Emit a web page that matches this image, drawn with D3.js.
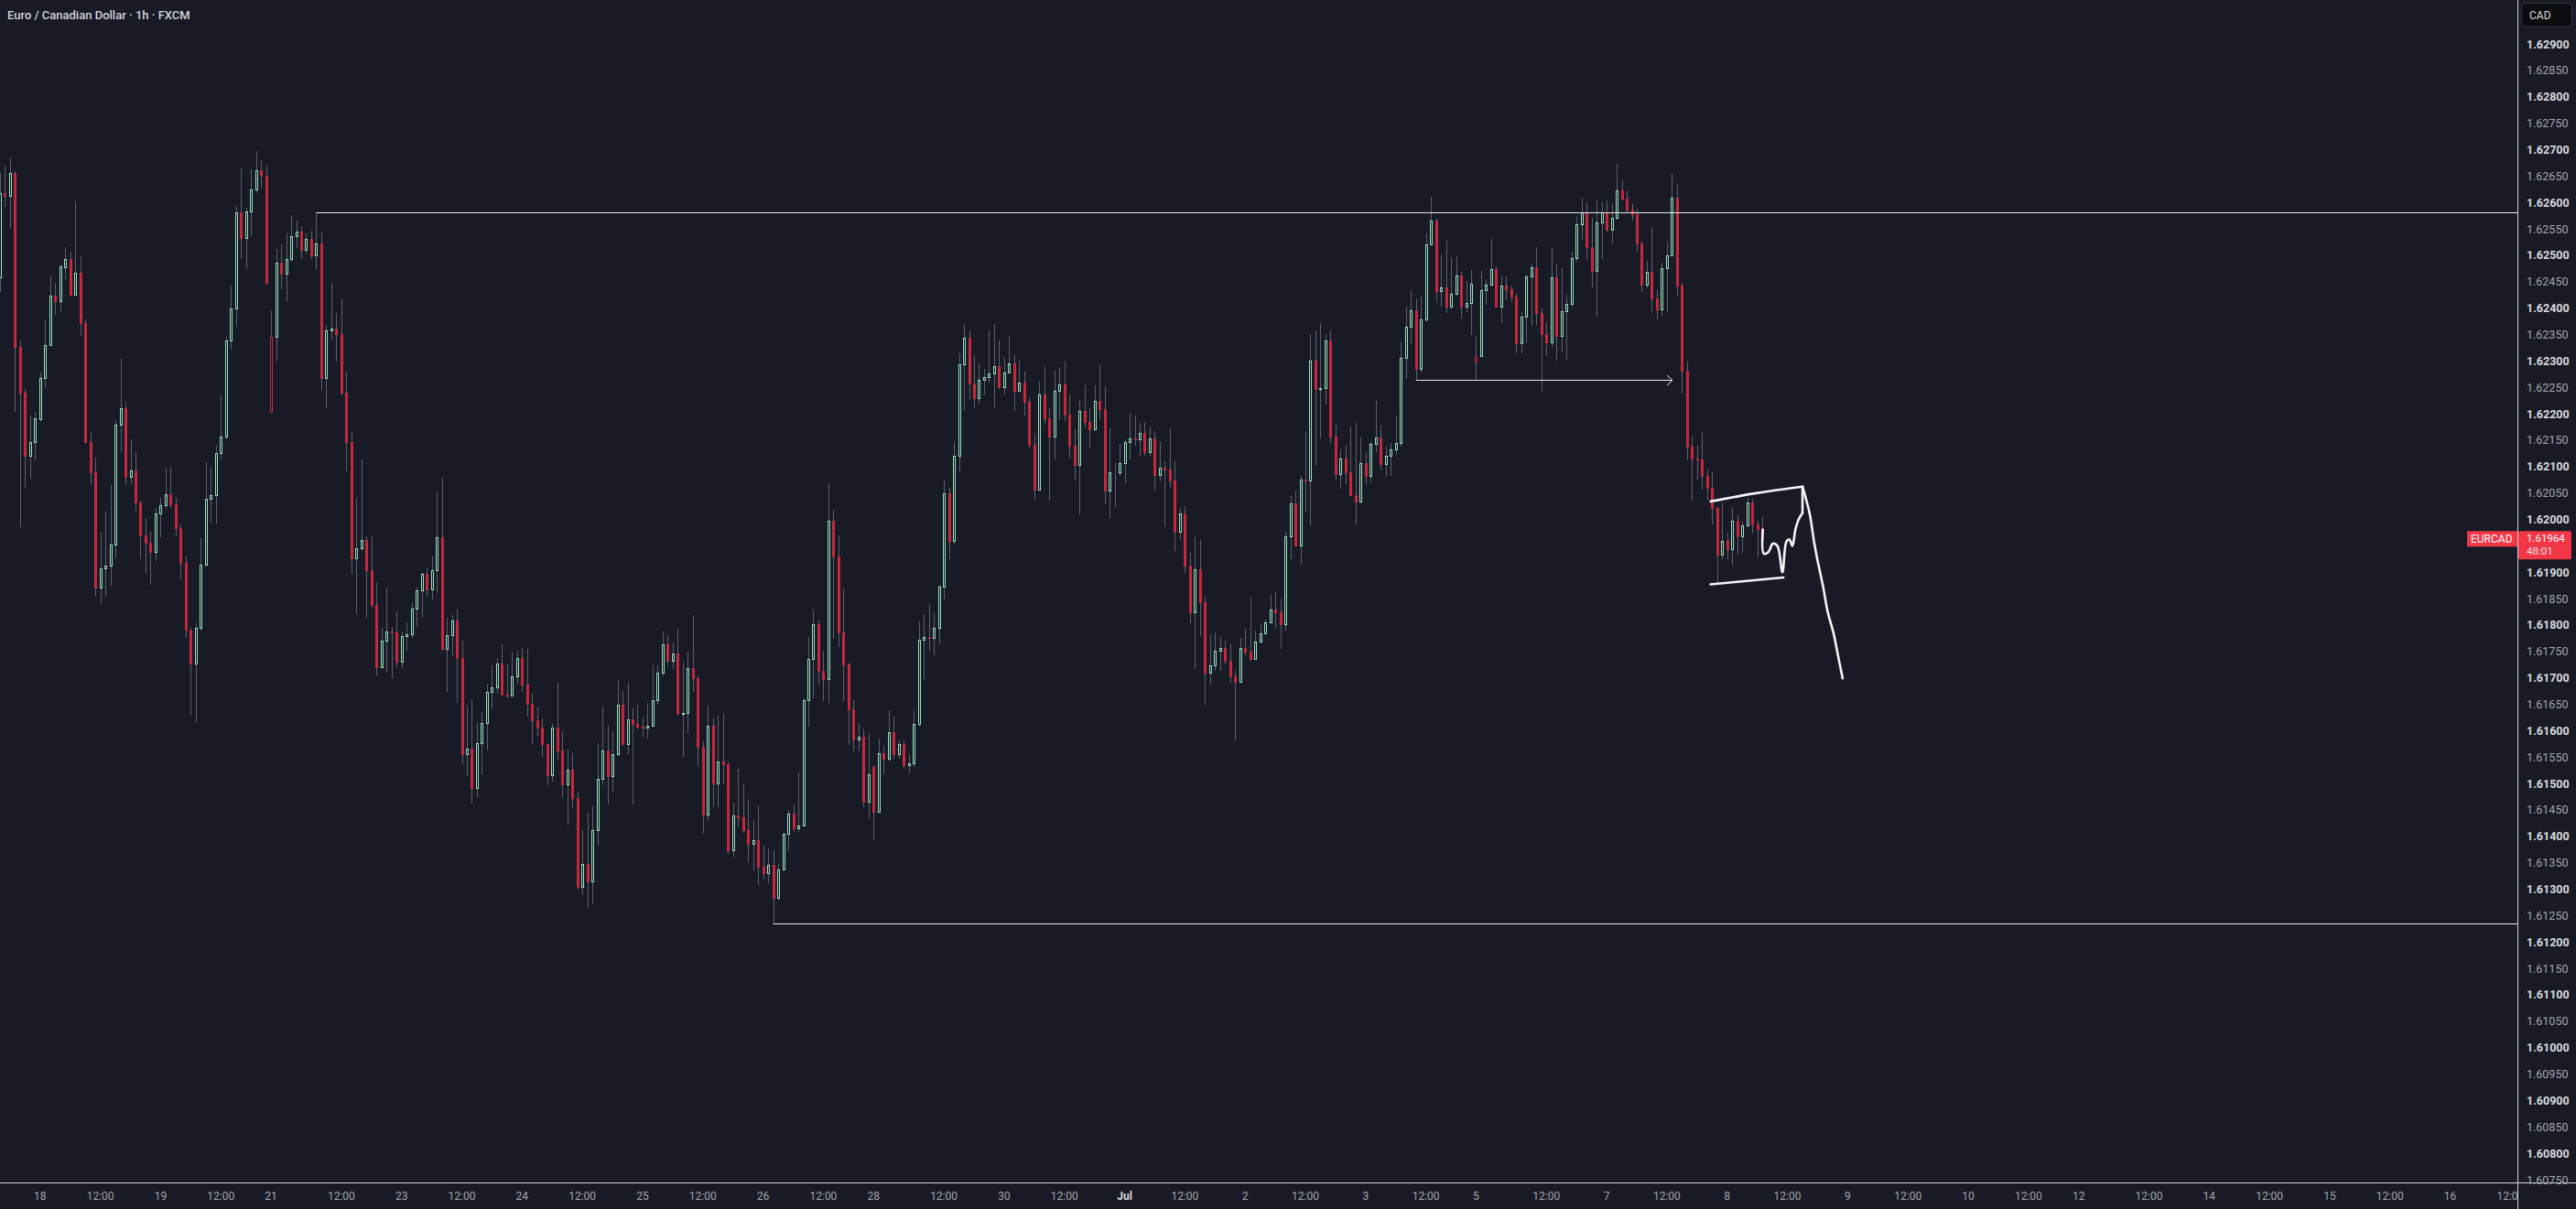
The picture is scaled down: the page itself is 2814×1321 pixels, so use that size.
<!DOCTYPE html>
<html>
<head>
<meta charset="utf-8">
<script src="https://cdn.jsdelivr.net/npm/d3@7/dist/d3.min.js"></script>
<style>
  html, body { margin: 0; padding: 0; background: #181a25; }
  svg { display: block; font-family: Roboto, "Noto Sans", sans-serif; }
</style>
</head>
<body>
<svg id="chart" width="2814" height="1321"></svg>
<script>
// EURCAD 1h, FXCM. First candle on screen is 17 Jun 16:00 (chart time)
const firstBar = "2026-06-17T16:00:00Z";

const open = [
1.62459,1.62617,1.62612,1.62655,1.62326,1.62240,1.62120,1.62146,
1.62190,1.62267,1.62330,1.62424,1.62414,1.62478,1.62493,1.62426,1.62467,1.62371,
1.62146,1.62090,1.61871,1.61907,1.61913,1.61953,1.62180,1.62210,1.62080,1.62093,
1.62032,1.61969,1.61955,1.61938,1.62011,1.62027,1.62047,1.62028,1.61983,1.61917,
1.61791,1.61727,1.61795,1.61915,1.62039,1.62046,1.62126,1.62157,1.62338,1.62400,
1.62581,1.62532,1.62583,1.62624,1.62661,1.62651,1.62204,1.62345,1.62486,1.62466,
1.62493,1.62537,1.62544,1.62510,1.62531,1.62500,1.62523,1.62268,1.62358,1.62362,
1.62350,1.62240,1.62146,1.61926,1.61945,1.61961,1.61904,1.61838,1.61720,1.61770,
1.61787,1.61786,1.61731,1.61779,1.61783,1.61831,1.61865,1.61897,1.61868,1.61904,
1.61966,1.61754,1.61781,1.61808,1.61737,1.61555,1.61566,1.61491,1.61576,1.61614,
1.61673,1.61682,1.61727,1.61669,1.61666,1.61702,1.61738,1.61687,1.61651,1.61619,
1.61605,1.61574,1.61515,1.61606,1.61562,1.61498,1.61526,1.61472,1.61304,1.61347,
1.61314,1.61412,1.61509,1.61562,1.61514,1.61555,1.61650,1.61575,1.61622,1.61613,
1.61607,1.61606,1.61610,1.61657,1.61709,1.61763,1.61733,1.61747,1.61632,1.61633,
1.61718,1.61700,1.61569,1.61441,1.61610,1.61500,1.61541,1.61536,1.61374,1.61439,
1.61436,1.61412,1.61385,1.61393,1.61343,1.61331,1.61346,1.61283,1.61338,1.61405,
1.61443,1.61416,1.61420,1.61657,1.61735,1.61802,1.61714,1.61698,1.61998,1.61929,
1.61786,1.61725,1.61640,1.61583,1.61588,1.61465,1.61532,1.61446,1.61557,1.61547,
1.61598,1.61555,1.61575,1.61534,1.61538,1.61613,1.61773,1.61777,1.61776,1.61794,
1.61873,1.62049,1.61960,1.62120,1.62294,1.62344,1.62258,1.62229,1.62264,1.62270,
1.62277,1.62291,1.62250,1.62278,1.62296,1.62243,1.62259,1.62222,1.62142,1.62057,
1.62236,1.62191,1.62156,1.62243,1.62256,1.62198,1.62139,1.62103,1.62206,1.62185,
1.62170,1.62224,1.62208,1.62055,1.62090,1.62089,1.62106,1.62146,1.62153,1.62152,
1.62163,1.62127,1.62154,1.62084,1.62097,1.62094,1.62074,1.61977,1.62012,1.61912,
1.61824,1.61905,1.61844,1.61710,1.61724,1.61752,1.61756,1.61732,1.61702,1.61693,
1.61756,1.61749,1.61735,1.61769,1.61784,1.61805,1.61829,1.61824,1.61801,1.61968,
1.62030,1.61951,1.62075,1.62074,1.62300,1.62246,1.62248,1.62338,1.62156,1.62086,
1.62115,1.62090,1.62046,1.62033,1.62107,1.62082,1.62143,1.62155,1.62105,1.62120,
1.62132,1.62144,1.62305,1.62364,1.62396,1.62285,1.62378,1.62520,1.62565,1.62433,
1.62439,1.62402,1.62427,1.62462,1.62402,1.62409,1.62298,1.62310,1.62434,1.62445,
1.62473,1.62403,1.62443,1.62435,1.62422,1.62334,1.62383,1.62460,1.62478,1.62391,
1.62351,1.62336,1.62458,1.62348,1.62394,1.62408,1.62494,1.62558,1.62582,1.62516,
1.62471,1.62562,1.62581,1.62548,1.62570,1.62622,1.62608,1.62586,1.62577,1.62523,
1.62444,1.62468,1.62418,1.62397,1.62475,1.62500,1.62609,1.62442,1.62282,1.62138,
1.62116,1.62114,1.62083,1.62060,1.62022,1.61934,1.61959,1.61944,1.61998,1.61968,
1.61988,1.62032,1.61990,1.61981
];

const high = [
1.62655,1.62669,1.62686,1.62660,1.62337,1.62247,1.62197,1.62202,
1.62278,1.62377,1.62462,1.62447,1.62483,1.62516,1.62506,1.62602,1.62498,1.62378,
1.62165,1.62117,1.61975,1.62014,1.62065,1.62186,1.62304,1.62223,1.62151,1.62128,
1.62035,1.62003,1.61976,1.62021,1.62041,1.62098,1.62100,1.62041,1.61991,1.61929,
1.61797,1.61803,1.61965,1.62108,1.62100,1.62140,1.62235,1.62345,1.62442,1.62594,
1.62664,1.62590,1.62663,1.62698,1.62680,1.62669,1.62396,1.62512,1.62521,1.62542,
1.62576,1.62565,1.62555,1.62542,1.62546,1.62582,1.62544,1.62367,1.62447,1.62391,
1.62416,1.62279,1.62165,1.62041,1.62113,1.61968,1.61968,1.61881,1.61795,1.61871,
1.61797,1.61826,1.61787,1.61805,1.61844,1.61871,1.61899,1.61908,1.61930,1.62051,
1.62079,1.61814,1.61821,1.61829,1.61770,1.61647,1.61659,1.61615,1.61635,1.61688,
1.61724,1.61737,1.61763,1.61725,1.61749,1.61752,1.61757,1.61755,1.61670,1.61644,
1.61624,1.61576,1.61613,1.61690,1.61599,1.61564,1.61557,1.61484,1.61412,1.61444,
1.61457,1.61576,1.61646,1.61610,1.61599,1.61696,1.61675,1.61690,1.61644,1.61650,
1.61625,1.61653,1.61723,1.61723,1.61787,1.61781,1.61767,1.61793,1.61729,1.61749,
1.61819,1.61704,1.61580,1.61648,1.61624,1.61628,1.61632,1.61542,1.61463,1.61528,
1.61499,1.61471,1.61431,1.61459,1.61383,1.61378,1.61374,1.61347,1.61406,1.61450,
1.61459,1.61521,1.61662,1.61778,1.61830,1.61809,1.61751,1.62069,1.62019,1.61969,
1.61867,1.61729,1.61658,1.61615,1.61603,1.61594,1.61535,1.61585,1.61571,1.61639,
1.61627,1.61582,1.61582,1.61555,1.61639,1.61806,1.61820,1.61840,1.61822,1.61876,
1.62074,1.62059,1.62147,1.62315,1.62370,1.62358,1.62311,1.62296,1.62285,1.62357,
1.62369,1.62339,1.62305,1.62348,1.62311,1.62301,1.62280,1.62229,1.62162,1.62261,
1.62291,1.62211,1.62282,1.62289,1.62298,1.62236,1.62171,1.62225,1.62254,1.62210,
1.62254,1.62292,1.62252,1.62172,1.62106,1.62143,1.62151,1.62202,1.62197,1.62183,
1.62185,1.62176,1.62168,1.62147,1.62110,1.62172,1.62110,1.62021,1.62025,1.61936,
1.61967,1.61961,1.61853,1.61782,1.61786,1.61778,1.61770,1.61766,1.61714,1.61776,
1.61793,1.61851,1.61789,1.61803,1.61810,1.61857,1.61864,1.61850,1.61977,1.62045,
1.62054,1.62083,1.62168,1.62351,1.62358,1.62372,1.62351,1.62358,1.62179,1.62133,
1.62140,1.62176,1.62183,1.62155,1.62126,1.62146,1.62225,1.62178,1.62137,1.62144,
1.62197,1.62336,1.62403,1.62434,1.62418,1.62424,1.62541,1.62611,1.62569,1.62502,
1.62529,1.62496,1.62498,1.62469,1.62451,1.62472,1.62345,1.62470,1.62455,1.62531,
1.62479,1.62460,1.62460,1.62443,1.62427,1.62392,1.62464,1.62484,1.62515,1.62400,
1.62373,1.62514,1.62483,1.62475,1.62425,1.62507,1.62572,1.62609,1.62600,1.62571,
1.62605,1.62601,1.62604,1.62597,1.62673,1.62642,1.62623,1.62599,1.62588,1.62526,
1.62489,1.62553,1.62434,1.62486,1.62526,1.62656,1.62634,1.62448,1.62299,1.62155,
1.62139,1.62166,1.62095,1.62090,1.62023,1.62032,1.61974,1.62023,1.62008,1.61996,
1.62041,1.62039,1.61998,1.62004
];

const low = [
1.62431,1.62592,1.62551,1.62204,1.61985,1.62059,1.62077,1.62111,
1.62185,1.62251,1.62328,1.62387,1.62391,1.62455,1.62424,1.62424,1.62348,1.62144,
1.62065,1.61856,1.61842,1.61854,1.61874,1.61927,1.62127,1.62065,1.62066,1.62017,
1.61926,1.61897,1.61876,1.61922,1.61967,1.62020,1.62022,1.61969,1.61886,1.61775,
1.61630,1.61617,1.61790,1.61910,1.61994,1.61993,1.62114,1.62151,1.62322,1.62364,
1.62493,1.62473,1.62536,1.62617,1.62628,1.62445,1.62202,1.62299,1.62436,1.62413,
1.62487,1.62513,1.62493,1.62504,1.62493,1.62472,1.62244,1.62210,1.62341,1.62298,
1.62235,1.62091,1.61897,1.61820,1.61940,1.61813,1.61833,1.61705,1.61718,1.61709,
1.61699,1.61721,1.61718,1.61752,1.61776,1.61796,1.61814,1.61853,1.61846,1.61860,
1.61752,1.61673,1.61741,1.61652,1.61537,1.61514,1.61462,1.61474,1.61518,1.61562,
1.61640,1.61670,1.61666,1.61662,1.61664,1.61688,1.61674,1.61626,1.61574,1.61591,
1.61550,1.61496,1.61504,1.61543,1.61473,1.61420,1.61453,1.61300,1.61291,1.61264,
1.61271,1.61382,1.61496,1.61461,1.61485,1.61553,1.61573,1.61555,1.61461,1.61602,
1.61588,1.61585,1.61608,1.61649,1.61702,1.61723,1.61716,1.61630,1.61550,1.61595,
1.61673,1.61533,1.61405,1.61429,1.61455,1.61455,1.61499,1.61366,1.61360,1.61417,
1.61407,1.61352,1.61336,1.61308,1.61319,1.61311,1.61235,1.61279,1.61336,1.61374,
1.61409,1.61408,1.61418,1.61607,1.61661,1.61688,1.61656,1.61652,1.61774,1.61758,
1.61656,1.61573,1.61561,1.61563,1.61455,1.61435,1.61393,1.61444,1.61517,1.61541,
1.61546,1.61547,1.61530,1.61519,1.61532,1.61608,1.61698,1.61751,1.61743,1.61764,
1.61849,1.61925,1.61953,1.62091,1.62207,1.62226,1.62211,1.62220,1.62236,1.62259,
1.62212,1.62247,1.62237,1.62277,1.62205,1.62242,1.62197,1.62135,1.62037,1.62055,
1.62179,1.62035,1.62114,1.62189,1.62185,1.62116,1.62074,1.62009,1.62174,1.62135,
1.62169,1.62189,1.62028,1.62002,1.62023,1.62083,1.62069,1.62114,1.62139,1.62121,
1.62120,1.62118,1.62054,1.62072,1.61987,1.62059,1.61940,1.61961,1.61897,1.61804,
1.61717,1.61779,1.61648,1.61687,1.61714,1.61714,1.61725,1.61691,1.61581,1.61690,
1.61742,1.61733,1.61735,1.61766,1.61782,1.61804,1.61795,1.61754,1.61790,1.61925,
1.61949,1.61915,1.62014,1.61989,1.62102,1.62153,1.62218,1.62145,1.62073,1.62058,
1.62067,1.62045,1.61990,1.62030,1.62065,1.62071,1.62128,1.62092,1.62081,1.62083,
1.62122,1.62137,1.62266,1.62334,1.62264,1.62278,1.62375,1.62518,1.62412,1.62402,
1.62390,1.62398,1.62424,1.62381,1.62393,1.62349,1.62263,1.62308,1.62407,1.62442,
1.62402,1.62372,1.62415,1.62411,1.62315,1.62315,1.62333,1.62366,1.62366,1.62241,
1.62310,1.62326,1.62300,1.62317,1.62300,1.62403,1.62488,1.62529,1.62493,1.62439,
1.62384,1.62493,1.62545,1.62523,1.62568,1.62603,1.62581,1.62565,1.62506,1.62431,
1.62438,1.62391,1.62378,1.62383,1.62393,1.62499,1.62421,1.62238,1.62111,1.62036,
1.62076,1.62056,1.62036,1.61991,1.61878,1.61924,1.61924,1.61913,1.61934,1.61936,
1.61985,1.61973,1.61928,1.61964
];

const close = [
1.62617,1.62612,1.62655,1.62326,1.62240,1.62120,1.62146,1.62191,
1.62268,1.62330,1.62424,1.62414,1.62479,1.62493,1.62426,1.62467,1.62371,1.62146,
1.62090,1.61871,1.61907,1.61913,1.61953,1.62180,1.62210,1.62080,1.62093,1.62032,
1.61969,1.61955,1.61938,1.62011,1.62027,1.62047,1.62028,1.61983,1.61917,1.61791,
1.61727,1.61795,1.61915,1.62039,1.62046,1.62126,1.62157,1.62338,1.62400,1.62581,
1.62532,1.62583,1.62624,1.62661,1.62651,1.62447,1.62345,1.62486,1.62466,1.62493,
1.62537,1.62544,1.62510,1.62531,1.62500,1.62523,1.62268,1.62358,1.62362,1.62350,
1.62240,1.62146,1.61926,1.61945,1.61961,1.61904,1.61838,1.61720,1.61770,1.61787,
1.61786,1.61731,1.61779,1.61783,1.61831,1.61865,1.61897,1.61868,1.61904,1.61966,
1.61754,1.61781,1.61808,1.61737,1.61555,1.61566,1.61491,1.61576,1.61614,1.61673,
1.61682,1.61727,1.61669,1.61666,1.61702,1.61738,1.61687,1.61651,1.61619,1.61605,
1.61574,1.61515,1.61606,1.61562,1.61498,1.61526,1.61472,1.61304,1.61347,1.61314,
1.61412,1.61509,1.61562,1.61514,1.61555,1.61650,1.61575,1.61622,1.61613,1.61607,
1.61606,1.61610,1.61657,1.61709,1.61763,1.61733,1.61747,1.61632,1.61633,1.61718,
1.61700,1.61569,1.61441,1.61610,1.61500,1.61541,1.61536,1.61374,1.61439,1.61436,
1.61412,1.61385,1.61393,1.61343,1.61331,1.61346,1.61283,1.61338,1.61405,1.61443,
1.61416,1.61420,1.61657,1.61735,1.61802,1.61714,1.61698,1.61998,1.61929,1.61786,
1.61725,1.61640,1.61583,1.61588,1.61465,1.61517,1.61446,1.61557,1.61547,1.61598,
1.61555,1.61575,1.61534,1.61538,1.61613,1.61773,1.61777,1.61776,1.61794,1.61873,
1.62049,1.61960,1.62120,1.62294,1.62344,1.62258,1.62229,1.62264,1.62270,1.62277,
1.62291,1.62250,1.62278,1.62296,1.62243,1.62259,1.62222,1.62142,1.62057,1.62236,
1.62191,1.62156,1.62243,1.62256,1.62198,1.62139,1.62103,1.62206,1.62185,1.62170,
1.62224,1.62208,1.62055,1.62090,1.62089,1.62106,1.62146,1.62153,1.62152,1.62163,
1.62127,1.62154,1.62084,1.62097,1.62094,1.62074,1.61977,1.62012,1.61912,1.61824,
1.61905,1.61844,1.61710,1.61724,1.61752,1.61756,1.61732,1.61702,1.61693,1.61756,
1.61749,1.61735,1.61769,1.61784,1.61805,1.61829,1.61824,1.61801,1.61968,1.62030,
1.61951,1.62075,1.62074,1.62300,1.62246,1.62248,1.62338,1.62156,1.62086,1.62115,
1.62090,1.62046,1.62033,1.62107,1.62082,1.62143,1.62155,1.62105,1.62120,1.62132,
1.62144,1.62305,1.62364,1.62396,1.62285,1.62378,1.62520,1.62565,1.62433,1.62439,
1.62402,1.62427,1.62462,1.62402,1.62409,1.62446,1.62310,1.62434,1.62445,1.62473,
1.62403,1.62443,1.62435,1.62422,1.62334,1.62383,1.62460,1.62478,1.62391,1.62351,
1.62336,1.62458,1.62348,1.62394,1.62408,1.62494,1.62558,1.62582,1.62516,1.62471,
1.62562,1.62581,1.62548,1.62570,1.62622,1.62608,1.62586,1.62577,1.62523,1.62444,
1.62468,1.62418,1.62397,1.62475,1.62500,1.62609,1.62442,1.62282,1.62138,1.62116,
1.62114,1.62083,1.62060,1.62022,1.61934,1.61959,1.61944,1.61998,1.61968,1.61988,
1.62032,1.61990,1.61981,1.61964
];

const priceTicks = [
"1.62900","1.62850","1.62800","1.62750","1.62700","1.62650","1.62600","1.62550",
"1.62500","1.62450","1.62400","1.62350","1.62300","1.62250","1.62200","1.62150",
"1.62100","1.62050","1.62000","1.61950","1.61900","1.61850","1.61800","1.61750",
"1.61700","1.61650","1.61600","1.61550","1.61500","1.61450","1.61400","1.61350",
"1.61300","1.61250","1.61200","1.61150","1.61100","1.61050","1.61000","1.60950",
"1.60900","1.60850","1.60800","1.60750"
];

const timeTickTimes = [
"2026-06-18T00","2026-06-18T12","2026-06-19T00","2026-06-19T12","2026-06-21T22","2026-06-22T12",
"2026-06-23T00","2026-06-23T12","2026-06-24T00","2026-06-24T12","2026-06-25T00","2026-06-25T12",
"2026-06-26T00","2026-06-26T12","2026-06-28T22","2026-06-29T12","2026-06-30T00","2026-06-30T12",
"2026-07-01T00","2026-07-01T12","2026-07-02T00","2026-07-02T12","2026-07-03T00","2026-07-03T12",
"2026-07-05T22","2026-07-06T12","2026-07-07T00","2026-07-07T12","2026-07-08T00","2026-07-08T12",
"2026-07-09T00","2026-07-09T12","2026-07-10T00","2026-07-10T12","2026-07-12T22","2026-07-13T12",
"2026-07-14T00","2026-07-14T12","2026-07-15T00","2026-07-15T12","2026-07-16T00","2026-07-16T12"
];
const timeTickLabels = [
"18","12:00","19","12:00","21","12:00","23","12:00","24","12:00","25","12:00",
"26","12:00","28","12:00","30","12:00","Jul","12:00","2","12:00","3","12:00",
"5","12:00","7","12:00","8","12:00","9","12:00","10","12:00","12","12:00",
"14","12:00","15","12:00","16","12:00"
];

// user drawings, as [bar index, price]
const resistance = { from: 63, price: 1.62581 };
const support = { from: 154, price: 1.61235 };
const arrowLine = { from: 282, to: 333.1, price: 1.62264 };
const boxTop = [[340.7, 1.62034], [350.0, 1.62050], [359.0, 1.62062]];
const boxBottom = [[340.7, 1.61877], [355.2, 1.61890]];
const boxSide = [[359.0, 1.62062], [359.0, 1.62012]];
const squiggle = [[351.1, 1.61981], [351.3, 1.61935], [352.2, 1.61938], [353.1, 1.61954], [354.0, 1.61950],
  [355.0, 1.61900], [355.8, 1.61958], [356.4, 1.61962], [357.0, 1.61950], [357.6, 1.61981],
  [358.2, 1.61999], [359.0, 1.62012]];
const dropPath = [[359.0, 1.62062], [360.4, 1.62012], [361.3, 1.61958], [361.9, 1.61927], [363.1, 1.61873],
  [364.0, 1.61826], [365.2, 1.61784], [366.1, 1.61741], [367.0, 1.61699]];

const lastPrice = "1.61964", countdown = "48:01", symbol = "EURCAD";

const bg = "#181a25", upColor = "#98e0bf", downColor = "#c4283d", wickColor = "#5c5f6b";
const plotRight = 2750, plotBottom = 1292;

const svg = d3.select("#chart");
svg.append("rect").attr("width", 2814).attr("height", 1321).attr("fill", bg);

const x = d3.scaleLinear().domain([0, 500]).range([-0.1, -0.1 + 5.485 * 500]);
const y = d3.scaleLinear().domain([1.6075, 1.629]).range([1289, 48]);

// trading hours only: no bars from Fri 22:00 until Sun 22:00
const bars = d3.utcHour.range(new Date(firstBar), new Date("2026-07-17T00:00:00Z")).filter(d => {
  let wd = d.getUTCDay(), h = d.getUTCHours();
  return !(wd === 6 || (wd === 5 && h >= 22) || (wd === 0 && h < 22));
});
function barOf(t){
  let ms = +new Date(t + ":00:00Z");
  return bars.findIndex(d => +d === ms);
}

svg.append("clipPath").attr("id", "plotClip")
  .append("rect").attr("width", plotRight).attr("height", plotBottom);

const plot = svg.append("g").attr("clip-path", "url(#plotClip)");

const candles = open.map((o, k) => ({
  k: k, o: o, h: high[k], l: low[k], c: close[k],
  prev: k > 0 ? close[k - 1] : o
}));

const cg = plot.append("g").attr("class", "candles");
candles.forEach(d => {
  let px = Math.round(x(d.k)),
    color = d.c >= d.prev ? upColor : downColor,
    hollow = d.c >= d.o,
    yTop = Math.round(y(Math.max(d.o, d.c))),
    yBot = Math.round(y(Math.min(d.o, d.c)));
  cg.append("line")
    .attr("x1", px + 0.5).attr("x2", px + 0.5)
    .attr("y1", Math.round(y(d.h))).attr("y2", Math.round(y(d.l)))
    .attr("stroke", wickColor).attr("stroke-width", 1);
  cg.append("rect")
    .attr("x", px - 0.5).attr("width", 2)
    .attr("y", yTop + 0.5).attr("height", Math.max(yBot - yTop, 0))
    .attr("fill", hollow ? bg : color)
    .attr("stroke", color).attr("stroke-width", 1);
});

// horizontal levels
const dg = plot.append("g").attr("class", "drawings");
[resistance, support].forEach(l => {
  dg.append("line")
    .attr("x1", x(l.from)).attr("x2", plotRight)
    .attr("y1", Math.round(y(l.price)) + 0.5).attr("y2", Math.round(y(l.price)) + 0.5)
    .attr("stroke", "#e8e8ea").attr("stroke-width", 1);
});

let ay = Math.round(y(arrowLine.price)) + 0.5, ax2 = x(arrowLine.to);
dg.append("line").attr("x1", x(arrowLine.from)).attr("x2", ax2).attr("y1", ay).attr("y2", ay)
  .attr("stroke", "#e8e8ea").attr("stroke-width", 1);
dg.append("path").attr("d", `M${ax2 - 6},${ay - 5.5}L${ax2},${ay}L${ax2 - 6},${ay + 5.5}`)
  .attr("fill", "none").attr("stroke", "#e8e8ea").attr("stroke-width", 1);

const brush = d3.line().x(p => x(p[0])).y(p => y(p[1])).curve(d3.curveCatmullRom.alpha(0.5));
[boxTop, boxBottom, boxSide, squiggle, dropPath].forEach(p => {
  dg.append("path").attr("d", brush(p))
    .attr("fill", "none").attr("stroke", "#f4f4f6").attr("stroke-width", 2.6)
    .attr("stroke-linecap", "round").attr("stroke-linejoin", "round");
});

// axes frame
svg.append("line").attr("x1", plotRight + 0.5).attr("x2", plotRight + 0.5).attr("y1", 0).attr("y2", 1321)
  .attr("stroke", "#d4d5da").attr("stroke-width", 1);
svg.append("line").attr("x1", 0).attr("x2", 2814).attr("y1", plotBottom + 0.5).attr("y2", plotBottom + 0.5)
  .attr("stroke", "#d4d5da").attr("stroke-width", 1);

// price scale; labels under the last price marker are hidden, as on the chart
let ly = y(+lastPrice);
const pa = svg.append("g").attr("class", "price-axis");
priceTicks.forEach(t => {
  let major = t.endsWith("00"), ty = y(+t);
  if (ty > ly - 16 && ty < ly + 30) return;
  pa.append("text").attr("x", 2760).attr("y", ty)
    .attr("dominant-baseline", "central")
    .attr("font-size", 12.5)
    .attr("font-weight", major ? 700 : 400)
    .attr("fill", major ? "#d9dade" : "#a4a6ae")
    .text(t);
});

// time scale
const ta = svg.append("g").attr("class", "time-axis").attr("clip-path", "url(#timeClip)");
svg.append("clipPath").attr("id", "timeClip").append("rect").attr("width", plotRight).attr("height", 1321);
timeTickTimes.forEach((t, i) => {
  let lab = timeTickLabels[i];
  ta.append("text").attr("x", x(barOf(t))).attr("y", 1307)
    .attr("text-anchor", "middle").attr("dominant-baseline", "central")
    .attr("font-size", 12)
    .attr("font-weight", lab === "Jul" ? 700 : 400)
    .attr("fill", lab === "Jul" ? "#d9dade" : "#a4a6ae")
    .text(lab);
});

// currency button
svg.append("rect").attr("x", 2754.5).attr("y", 3.5).attr("width", 55).attr("height", 26).attr("rx", 4)
  .attr("fill", "#0d0d10").attr("stroke", "#34363e");
svg.append("text").attr("x", 2763).attr("y", 17).attr("dominant-baseline", "central")
  .attr("font-size", 12).attr("fill", "#d9dade").text("CAD");

// last price marker
svg.append("rect").attr("x", 2751).attr("y", ly - 8).attr("width", 58).attr("height", 31).attr("rx", 2)
  .attr("fill", "#f23645");
svg.append("text").attr("x", 2760).attr("y", ly - 0.5).attr("dominant-baseline", "central")
  .attr("font-size", 11.5).attr("fill", "#ffffff").text(lastPrice);
svg.append("text").attr("x", 2760).attr("y", ly + 13.5).attr("dominant-baseline", "central")
  .attr("font-size", 11.5).attr("fill", "#fde3e6").text(countdown);
svg.append("rect").attr("x", 2695).attr("y", ly - 8).attr("width", 55).attr("height", 17)
  .attr("fill", "#f23645");
svg.append("text").attr("x", 2699).attr("y", ly + 0.5).attr("dominant-baseline", "central")
  .attr("font-size", 12).attr("fill", "#ffffff").text(symbol);

// title
svg.append("text").attr("x", 8).attr("y", 16).attr("dominant-baseline", "central")
  .attr("font-size", 13).attr("font-weight", 500).attr("fill", "#d1d4dc")
  .text("Euro / Canadian Dollar · 1h · FXCM");
</script>
</body>
</html>
